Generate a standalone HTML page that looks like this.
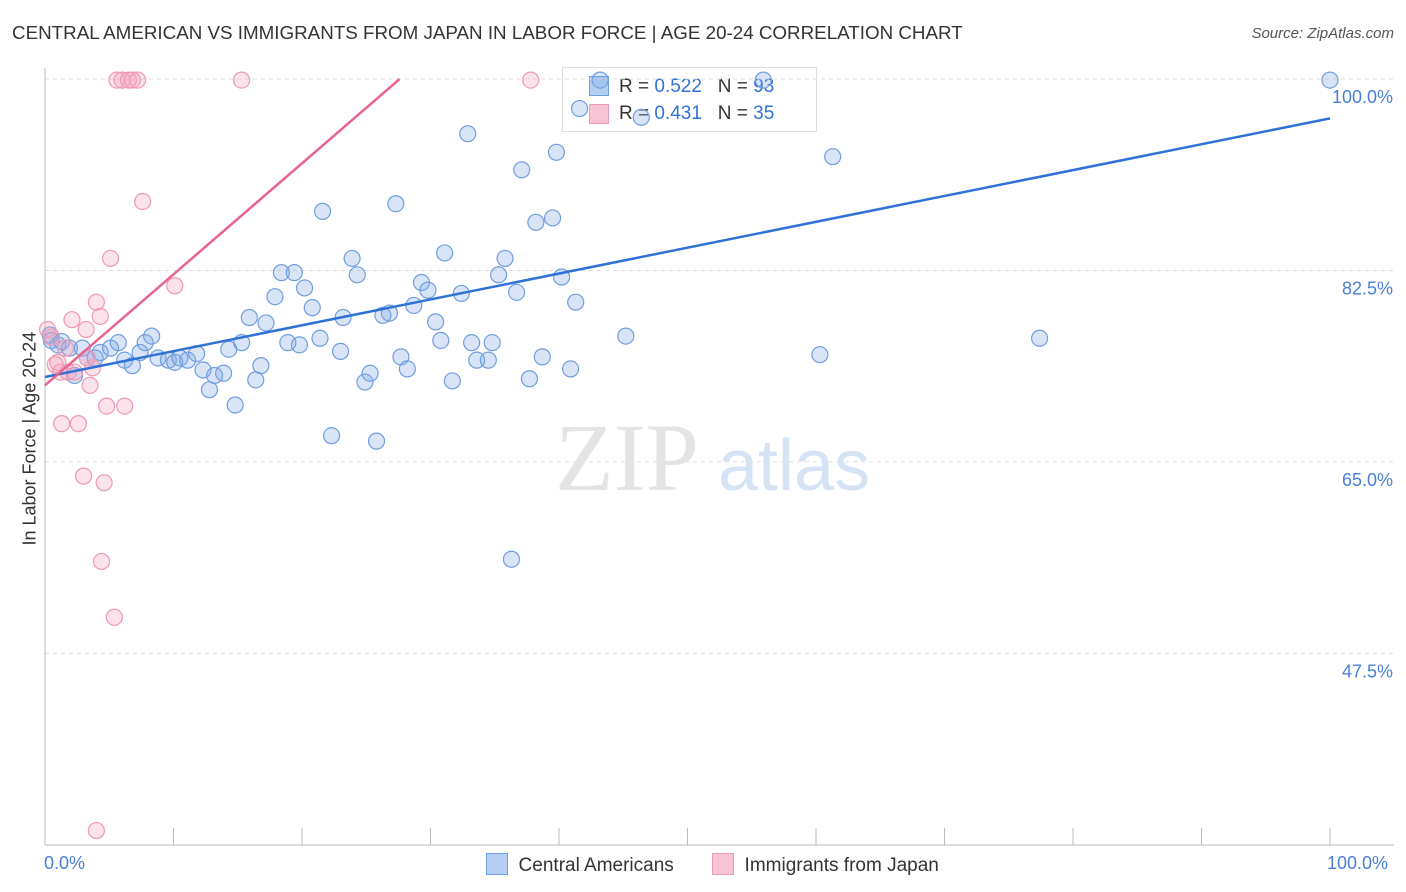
<!DOCTYPE html>
<html><head><meta charset="utf-8"><style>
body{margin:0;background:#fff;font-family:"Liberation Sans",sans-serif;}
#wrap{position:relative;width:1406px;height:892px;overflow:hidden;}
.t{position:absolute;white-space:nowrap;}
</style></head><body>
<div id="wrap">
<div class="t" style="left:12px;top:22px;font-size:18.8px;color:#333;">CENTRAL AMERICAN VS IMMIGRANTS FROM JAPAN IN LABOR FORCE | AGE 20-24 CORRELATION CHART</div>
<div class="t" style="right:12px;top:25px;font-size:15px;color:#555;font-style:italic;">Source: ZipAtlas.com</div>
<div style="position:absolute;z-index:1;left:562px;top:67px;width:253px;height:63px;border:1px solid #ddd;background:#fff;font-size:19px;color:#333;">
 <div style="position:absolute;left:26px;top:8px;width:18px;height:18px;background:#b5cff3;border:1px solid #6f9ee0;"></div>
 <div class="t" style="left:56px;top:8px;">R = <span style="color:#2f72d6">0.522</span>&nbsp;&nbsp;&nbsp;N = <span style="color:#2f72d6">93</span></div>
 <div style="position:absolute;left:26px;top:36px;width:18px;height:18px;background:#f8c3d4;border:1px solid #ee99b5;"></div>
 <div class="t" style="left:56px;top:35px;">R = <span style="color:#2f72d6">0.431</span>&nbsp;&nbsp;&nbsp;N = <span style="color:#2f72d6">35</span></div>
</div>
<svg id="svg" width="1406" height="892" style="position:absolute;left:0;top:0;z-index:2"></svg>
</div>
<script>
const blueX=[0.4,0.5,1.0,1.3,1.9,2.3,2.9,3.3,3.9,4.3,5.1,5.7,6.2,6.8,7.4,7.8,8.3,8.8,9.6,10.1,10.5,11.1,11.8,12.3,12.8,13.2,13.9,14.3,14.8,15.3,15.9,16.4,16.8,17.2,17.9,18.4,19.4,18.9,19.8,20.2,20.8,21.4,21.6,22.3,23.0,23.2,23.9,24.3,24.9,25.3,25.8,26.3,26.8,27.3,27.7,28.2,28.7,29.3,29.8,30.4,30.8,31.1,31.7,32.4,32.9,33.2,33.6,34.5,34.8,35.3,35.8,36.3,36.7,37.1,37.7,38.2,38.7,39.5,39.8,40.2,40.9,41.3,41.6,43.2,45.2,46.4,55.9,60.3,61.3,77.4,100];
const blueY=[76.6,76.1,75.7,76.0,75.4,72.9,75.4,74.5,74.5,75.0,75.4,75.9,74.3,73.8,75.0,75.9,76.5,74.5,74.3,74.1,74.5,74.3,74.9,73.4,71.6,72.9,73.1,75.3,70.2,75.9,78.2,72.5,73.8,77.7,80.1,82.3,82.3,75.9,75.7,80.9,79.1,76.3,87.9,67.4,75.1,78.2,83.6,82.1,72.3,73.1,66.9,78.4,78.6,88.6,74.6,73.5,79.3,81.4,80.7,77.8,76.1,84.1,72.4,80.4,95.0,75.9,74.3,74.3,75.9,82.1,83.6,56.1,80.5,91.7,72.6,86.9,74.6,87.3,93.3,81.9,73.5,79.6,97.3,99.9,76.5,96.5,99.9,74.8,92.9,76.3,99.9];
const pinkX=[0.2,0.5,0.8,1.2,1.3,1.6,1.8,2.1,2.3,2.6,3.0,3.2,3.3,3.5,4.0,4.3,4.6,4.4,4.8,5.4,5.6,6.0,6.2,6.5,6.8,7.2,5.1,7.6,10.1,15.3,37.8,4.0,1.0,3.7];
const pinkY=[77.1,76.4,73.9,73.2,68.5,75.4,73.2,78.0,73.2,68.5,63.7,77.1,74.5,72.0,79.6,78.3,63.1,55.9,70.1,50.8,99.9,99.9,70.1,99.9,99.9,99.9,83.6,88.8,81.1,99.9,99.9,31.3,74.1,73.6];
const blueLine=[[0,72.76],[100,96.4]];
const pinkLine=[[0,72.0],[27.6,100]];
const yTicks=[100,82.5,65,47.5];
const yTickLabels=["100.0%","82.5%","65.0%","47.5%"];
const NS="http://www.w3.org/2000/svg";
const svg=document.getElementById('svg');
const X=v=>45+v*12.85;
const Y=v=>79+(100-v)*10.94;
function mk(tag,attrs,parent){const e=document.createElementNS(NS,tag);for(const k in attrs)e.setAttribute(k,attrs[k]);(parent||svg).appendChild(e);return e;}
yTicks.forEach((v,i)=>{
 const g=mk('line',{x1:45,x2:1394,y1:Y(v),y2:Y(v),stroke:'#ddd','stroke-dasharray':'4,4'});
 
 
 const t=mk('text',{x:1393,y:Y(v)+24,'text-anchor':'end','font-size':18,fill:'#4a7fd6','font-family':'Liberation Sans'});
 t.textContent=yTickLabels[i];
 
 
});
const ax=mk('line',{x1:45,x2:1394,y1:845,y2:845,stroke:'#bbb'});


const ay=mk('line',{x1:45,x2:45,y1:68,y2:845,stroke:'#bbb'});


for(let i=0;i<=10;i++){const tk=mk('line',{x1:X(i*10),x2:X(i*10),y1:828,y2:845,stroke:'#bbb'});
 
 }
const wm=mk('text',{x:555,y:490,'font-size':96,fill:'#e4e4e4','font-family':'Liberation Serif'});wm.textContent='ZIP';


const wm2=mk('text',{x:718,y:490,'font-size':72,fill:'#d5e3f5','font-family':'Liberation Sans'});wm2.textContent='atlas';


blueX.forEach((x,i)=>{const c=mk('circle',{cx:X(x),cy:Y(blueY[i]),r:8,fill:'rgba(130,170,230,0.3)',stroke:'#6f9ee0','stroke-width':1.2});
 
 });
pinkX.forEach((x,i)=>{const c=mk('circle',{cx:X(x),cy:Y(pinkY[i]),r:8,fill:'rgba(245,160,190,0.3)',stroke:'#ee99b5','stroke-width':1.2});
 
 });
const bl=mk('line',{x1:X(blueLine[0][0]),y1:Y(blueLine[0][1]),x2:X(blueLine[1][0]),y2:Y(blueLine[1][1]),stroke:'#2f72d6','stroke-width':2.5});


const pl=mk('line',{x1:X(pinkLine[0][0]),y1:Y(pinkLine[0][1]),x2:X(pinkLine[1][0]),y2:Y(pinkLine[1][1]),stroke:'#e8648f','stroke-width':2.5});


</script>
<div class="t" style="left:-60px;top:445px;transform:rotate(-90deg);font-size:18px;color:#333;width:180px;text-align:center;">In Labor Force | Age 20-24</div>
<div class="t" style="left:44px;top:853px;font-size:18px;color:#4a7fd6;">0.0%</div>
<div class="t" style="left:1327px;top:853px;font-size:18px;color:#4a7fd6;">100.0%</div>
<div style="position:absolute;left:486px;top:853px;font-size:19px;color:#333;">
 <span style="display:inline-block;width:20px;height:20px;background:#b5cff3;border:1px solid #6f9ee0;vertical-align:-4px;"></span>&nbsp; Central Americans</div>
<div style="position:absolute;left:712px;top:853px;font-size:19px;color:#333;">
 <span style="display:inline-block;width:20px;height:20px;background:#f8c3d4;border:1px solid #ee99b5;vertical-align:-4px;"></span>&nbsp; Immigrants from Japan</div>
</body></html>
